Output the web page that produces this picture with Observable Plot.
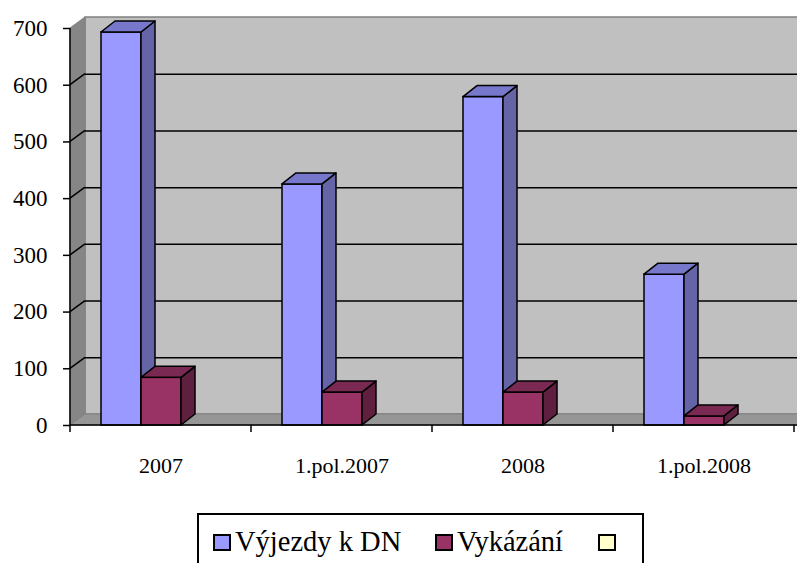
<!DOCTYPE html>
<html>
<head>
<meta charset="utf-8">
<script src="https://cdn.jsdelivr.net/npm/d3@7"></script>
<script src="https://cdn.jsdelivr.net/npm/@observablehq/plot@0.6"></script>
<style>
  html, body { margin: 0; padding: 0; background: #fff; overflow: hidden; }
  body, #legend, .lt { font-family: "Liberation Serif", "Times New Roman", Tinos, "DejaVu Serif", serif; color: #000; }
  svg text { font-family: "Liberation Serif", "Times New Roman", Tinos, "DejaVu Serif", serif !important; }
  #legend { position: relative; margin-left: 197px; margin-top: 8px; width: 447px; height: 60px;
            border: 2px solid #000; border-bottom: none; box-sizing: border-box; }
  .sw { position: absolute; top: 19px; width: 14px; height: 13px; border: 2px solid #000; }
  .lt { position: absolute; top: 13px; font-size: 28.5px; line-height: 28px; white-space: nowrap; }
</style>
</head>
<body>
<div id="chart"></div>
<div id="legend"></div>
<script>
// ---- data ----
const categories = ["2007", "1.pol.2007", "2008", "1.pol.2008"];
const vyjezdy = [693, 425, 579, 266];   // Výjezdy k DN
const vykazani = [84, 58, 58, 16];      // Vykázání
const yTicks = [0, 100, 200, 300, 400, 500, 600, 700];
const seriesNames = ["Výjezdy k DN", "Vykázání", ""];

// ---- styles ----
const FONT = "Liberation Serif, Times New Roman, Tinos, DejaVu Serif, serif";
const colors = {
  blue: { front: "#9999ff", top: "#7777cc", side: "#6464a6" },
  red:  { front: "#993366", top: "#7a2952", side: "#5f1f3f" },
  third: "#ffffcc"
};
const DX = 14, DY = 11;      // bar depth
const WDX = 15, WDY = 11;    // wall depth
const BAR_W = 40;
const BLUE_IN = 31, RED_IN = 71;
const SW = 1.5;

const blueData = categories.map((c, i) => ({cat: c, v: vyjezdy[i]}));
const redData = categories.map((c, i) => ({cat: c, v: vykazani[i]}));

function faces(data, inset, col) {
  return (index, scales) => {
    const {x, y} = scales;
    const g = d3.create("svg:g").attr("stroke", "#000").attr("stroke-width", SW).attr("stroke-linejoin", "round");
    const y0 = y(0);
    data.forEach(d => {
      const x0 = x(d.cat) + inset, x1 = x0 + BAR_W;
      const yv = y(d.v);
      g.append("path")
        .attr("d", `M${x1},${y0}L${x1 + DX},${y0 - DY}L${x1 + DX},${yv - DY}L${x1},${yv}Z`)
        .attr("fill", col.side);
      g.append("path")
        .attr("d", `M${x0},${yv}L${x0 + DX},${yv - DY}L${x1 + DX},${yv - DY}L${x1},${yv}Z`)
        .attr("fill", col.top);
    });
    return g.node();
  };
}

function walls(index, scales, channels, dims) {
  const {y} = scales;
  const {width, marginLeft: L} = dims;
  const yTop = y(yTicks[yTicks.length - 1]), yBot = y(0);
  const g = d3.create("svg:g");
  g.append("rect")
    .attr("x", L + WDX).attr("y", yTop - WDY)
    .attr("width", width + 30 - (L + WDX)).attr("height", yBot - yTop)
    .attr("fill", "#c0c0c0").attr("stroke", "#808080").attr("stroke-width", 1.5);
  g.append("path")
    .attr("d", `M${L},${yBot}L${L + WDX},${yBot - WDY}L${L + WDX},${yTop - WDY}L${L},${yTop}Z`)
    .attr("fill", "#868686").attr("stroke", "#808080");
  g.append("path")
    .attr("d", `M${L},${yBot}L${L + WDX},${yBot - WDY}L${width + 30},${yBot - WDY}L${width + 30},${yBot}Z`)
    .attr("fill", "#969696").attr("stroke", "#808080");
  yTicks.slice(1, -1).forEach(v => {
    g.append("line")
      .attr("x1", L).attr("y1", y(v)).attr("x2", L + WDX).attr("y2", y(v) - WDY)
      .attr("stroke", "#000").attr("stroke-width", 1.5);
  });
  return g.node();
}

function axisLines(index, scales, channels, dims) {
  const {x, y} = scales;
  const {width, marginLeft: L} = dims;
  const bw = x.bandwidth ? x.bandwidth() : 181;
  const yBot = y(0), yTop = y(yTicks[yTicks.length - 1]);
  const g = d3.create("svg:g").attr("stroke", "#000").attr("stroke-width", 1.5);
  g.append("line").attr("x1", L).attr("x2", L).attr("y1", yTop).attr("y2", yBot);
  g.append("line").attr("x1", L).attr("x2", width).attr("y1", yBot).attr("y2", yBot);
  const edges = categories.map(c => x(c)).concat([x(categories[categories.length - 1]) + bw]);
  edges.forEach(e => {
    g.append("line").attr("x1", e).attr("x2", e).attr("y1", yBot).attr("y2", yBot + 7);
  });
  return g.node();
}

const plot = Plot.plot({
  width: 797,
  height: 505,
  marginLeft: 70,
  marginRight: 3,
  marginTop: 28,
  marginBottom: 80,
  style: { fontFamily: FONT, color: "#000", background: "#fff", overflow: "visible" },
  x: { domain: categories, padding: 0 },
  y: { domain: [0, 700] },
  marks: [
    walls,
    Plot.ruleY(yTicks.slice(1, -1), { y: d => d, dx: WDX, dy: -WDY, stroke: "#000", strokeWidth: 1.5 }),
    Plot.barY(blueData, { x: "cat", y: "v", fill: colors.blue.front, stroke: "#000", strokeWidth: SW,
                          insetLeft: BLUE_IN, insetRight: 181 - BLUE_IN - BAR_W }),
    faces(blueData, BLUE_IN, colors.blue),
    Plot.barY(redData, { x: "cat", y: "v", fill: colors.red.front, stroke: "#000", strokeWidth: SW,
                         insetLeft: RED_IN, insetRight: 181 - RED_IN - BAR_W }),
    faces(redData, RED_IN, colors.red),
    axisLines,
    Plot.axisY({ ticks: yTicks, tickSize: 7, tickPadding: 16, fontSize: 23, fontFamily: FONT,
                 fontVariant: "normal", tickFormat: d => String(d), strokeWidth: 1.5, label: null }),
    Plot.axisX({ tickSize: 0, tickPadding: 32, fontSize: 22, fontFamily: FONT, label: null })
  ]
});
document.getElementById("chart").appendChild(plot);

// ---- legend ----
const legend = document.getElementById("legend");
const items = [
  { name: seriesNames[0], color: colors.blue.front, sw: 14 },
  { name: seriesNames[1], color: colors.red.front, sw: 236 },
  { name: seriesNames[2], color: colors.third, sw: 399 }
];
items.forEach(it => {
  const s = document.createElement("div");
  s.className = "sw";
  s.style.left = it.sw + "px";
  s.style.background = it.color;
  legend.appendChild(s);
  if (it.name) {
    const t = document.createElement("div");
    t.className = "lt";
    t.style.left = (it.sw + 22) + "px";
    t.textContent = it.name;
    legend.appendChild(t);
  }
});
</script>
</body>
</html>
